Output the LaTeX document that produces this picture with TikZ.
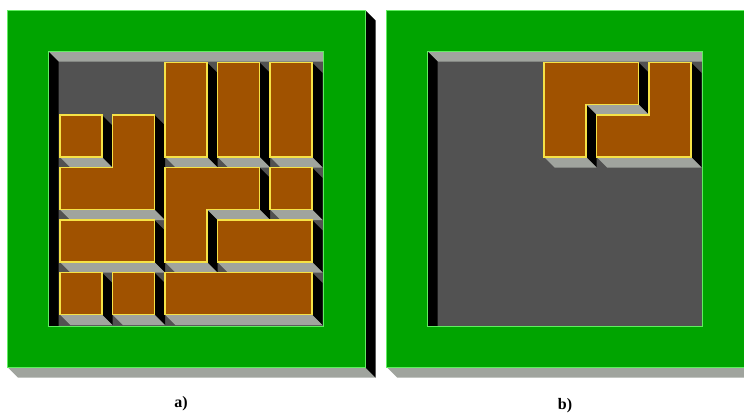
\documentclass[tikz,border=0pt]{standalone}
\usepackage{fontspec}
\setmainfont{Liberation Serif}
\definecolor{framegreen}{RGB}{0,164,0}
\definecolor{frameedge}{RGB}{96,238,96}
\definecolor{wallgray}{RGB}{160,164,158}
\definecolor{floorgray}{RGB}{82,82,82}
\definecolor{brick}{RGB}{160,82,0}
\definecolor{brickedge}{RGB}{246,226,70}
\tikzset{
  topface/.style={fill=brick, draw=brickedge, line width=0.8pt},
  rightside/.style={fill=black},
  bottomside/.style={fill=wallgray},
  edgeline/.style={draw=frameedge, line width=0.75pt},
  caption/.style={font=\fontsize{12}{14}\selectfont\bfseries, inner sep=0pt},
}
% depth of every extruded face
\newcommand\dd{10.5}
% face seen on the right of a vertical edge: x, y-top, y-bottom
\newcommand\rface[3]{\fill[rightside] (#1,#2) -- ({#1+\dd},{#2+\dd}) -- ({#1+\dd},{#3+\dd}) -- (#1,#3) -- cycle;}
% face seen below a horizontal edge: y, x-left, x-right
\newcommand\bface[3]{\fill[bottomside] (#2,#1) -- (#3,#1) -- ({#3+\dd},{#1+\dd}) -- ({#2+\dd},{#1+\dd}) -- cycle;}
% rectangular block: x1 y1 x2 y2
\newcommand\blockshadow[4]{\rface{#3}{#2}{#4}\bface{#4}{#1}{#3}}
\newcommand\blocktop[4]{\draw[topface] (#1,#2) rectangle (#3,#4);}
% green slab with square well
\newcommand\panelframe{%
  \bface{367}{7.5}{365}
  \rface{365}{10}{367}
  \fill[framegreen, even odd rule] (7.5,10) rectangle (365,367) (48,51) rectangle (323,326);
}
\newcommand\panelwell{%
  \fill[floorgray] (48,51) rectangle (323,326);
  \fill[bottomside] (48,51) -- (323,51) -- (323,61.5) -- (58.5,61.5) -- cycle;
  \fill[rightside] (48,51) -- (58.5,61.5) -- (58.5,326) -- (48,326) -- cycle;
}
\newcommand\paneledges{\path[edgeline] (7.5,10) rectangle (365,367) (48,51) rectangle (323,326);}

\begin{document}
\begin{tikzpicture}[x=0.75pt, y=-0.75pt]
\useasboundingbox (0,0) rectangle (744,414);
\clip (0,0) rectangle (744,414);

% ---------- left slab: filled well ----------
\begin{scope}
  \panelframe
  \begin{scope}
    \clip (48,51) rectangle (323,326);
    \panelwell
    % side faces
    \blockshadow{60}{115}{102}{157}
    \blockshadow{165}{62.5}{207}{157}
    \blockshadow{217.5}{62.5}{259.5}{157}
    \blockshadow{270}{62.5}{312}{157}
    \blockshadow{270}{167.5}{312}{209.5}
    \blockshadow{60}{220}{154.5}{262}
    \blockshadow{217.5}{220}{312}{262}
    \blockshadow{60}{272.5}{102}{314.5}
    \blockshadow{112.5}{272.5}{154.5}{314.5}
    \blockshadow{165}{272.5}{312}{314.5}
    \rface{154.5}{115}{209.5}
    \bface{209.5}{60}{154.5}
    \rface{259.5}{167.5}{209.5}
    \bface{209.5}{207}{259.5}
    \rface{207}{209.5}{262}
    \bface{262}{165}{207}
    % top faces
    \blocktop{60}{115}{102}{157}
    \blocktop{165}{62.5}{207}{157}
    \blocktop{217.5}{62.5}{259.5}{157}
    \blocktop{270}{62.5}{312}{157}
    \blocktop{270}{167.5}{312}{209.5}
    \blocktop{60}{220}{154.5}{262}
    \blocktop{217.5}{220}{312}{262}
    \blocktop{60}{272.5}{102}{314.5}
    \blocktop{112.5}{272.5}{154.5}{314.5}
    \blocktop{165}{272.5}{312}{314.5}
    \draw[topface] (112.5,115) -- (154.5,115) -- (154.5,209.5) -- (60,209.5) -- (60,167.5) -- (112.5,167.5) -- cycle;
    \draw[topface] (165,167.5) -- (259.5,167.5) -- (259.5,209.5) -- (207,209.5) -- (207,262) -- (165,262) -- cycle;
  \end{scope}
  \paneledges
\end{scope}
\node[caption] (la) at (181,403.5) {a)};

% ---------- right slab: two pieces ----------
\begin{scope}[shift={(379,0)}]
  \panelframe
  \begin{scope}
    \clip (48,51) rectangle (323,326);
    \panelwell
    \rface{259.5}{62.5}{104.5}
    \bface{104.5}{207}{259.5}
    \rface{207}{104.5}{157}
    \bface{157}{165}{207}
    \rface{312}{62.5}{157}
    \bface{157}{217.5}{312}
    \draw[topface] (165,62.5) -- (259.5,62.5) -- (259.5,104.5) -- (207,104.5) -- (207,157) -- (165,157) -- cycle;
    \draw[topface] (270,62.5) -- (312,62.5) -- (312,157) -- (217.5,157) -- (217.5,115) -- (270,115) -- cycle;
  \end{scope}
  \paneledges
\end{scope}
\node[caption] (lb) at (565,406) {b)};
\end{tikzpicture}
\end{document}
